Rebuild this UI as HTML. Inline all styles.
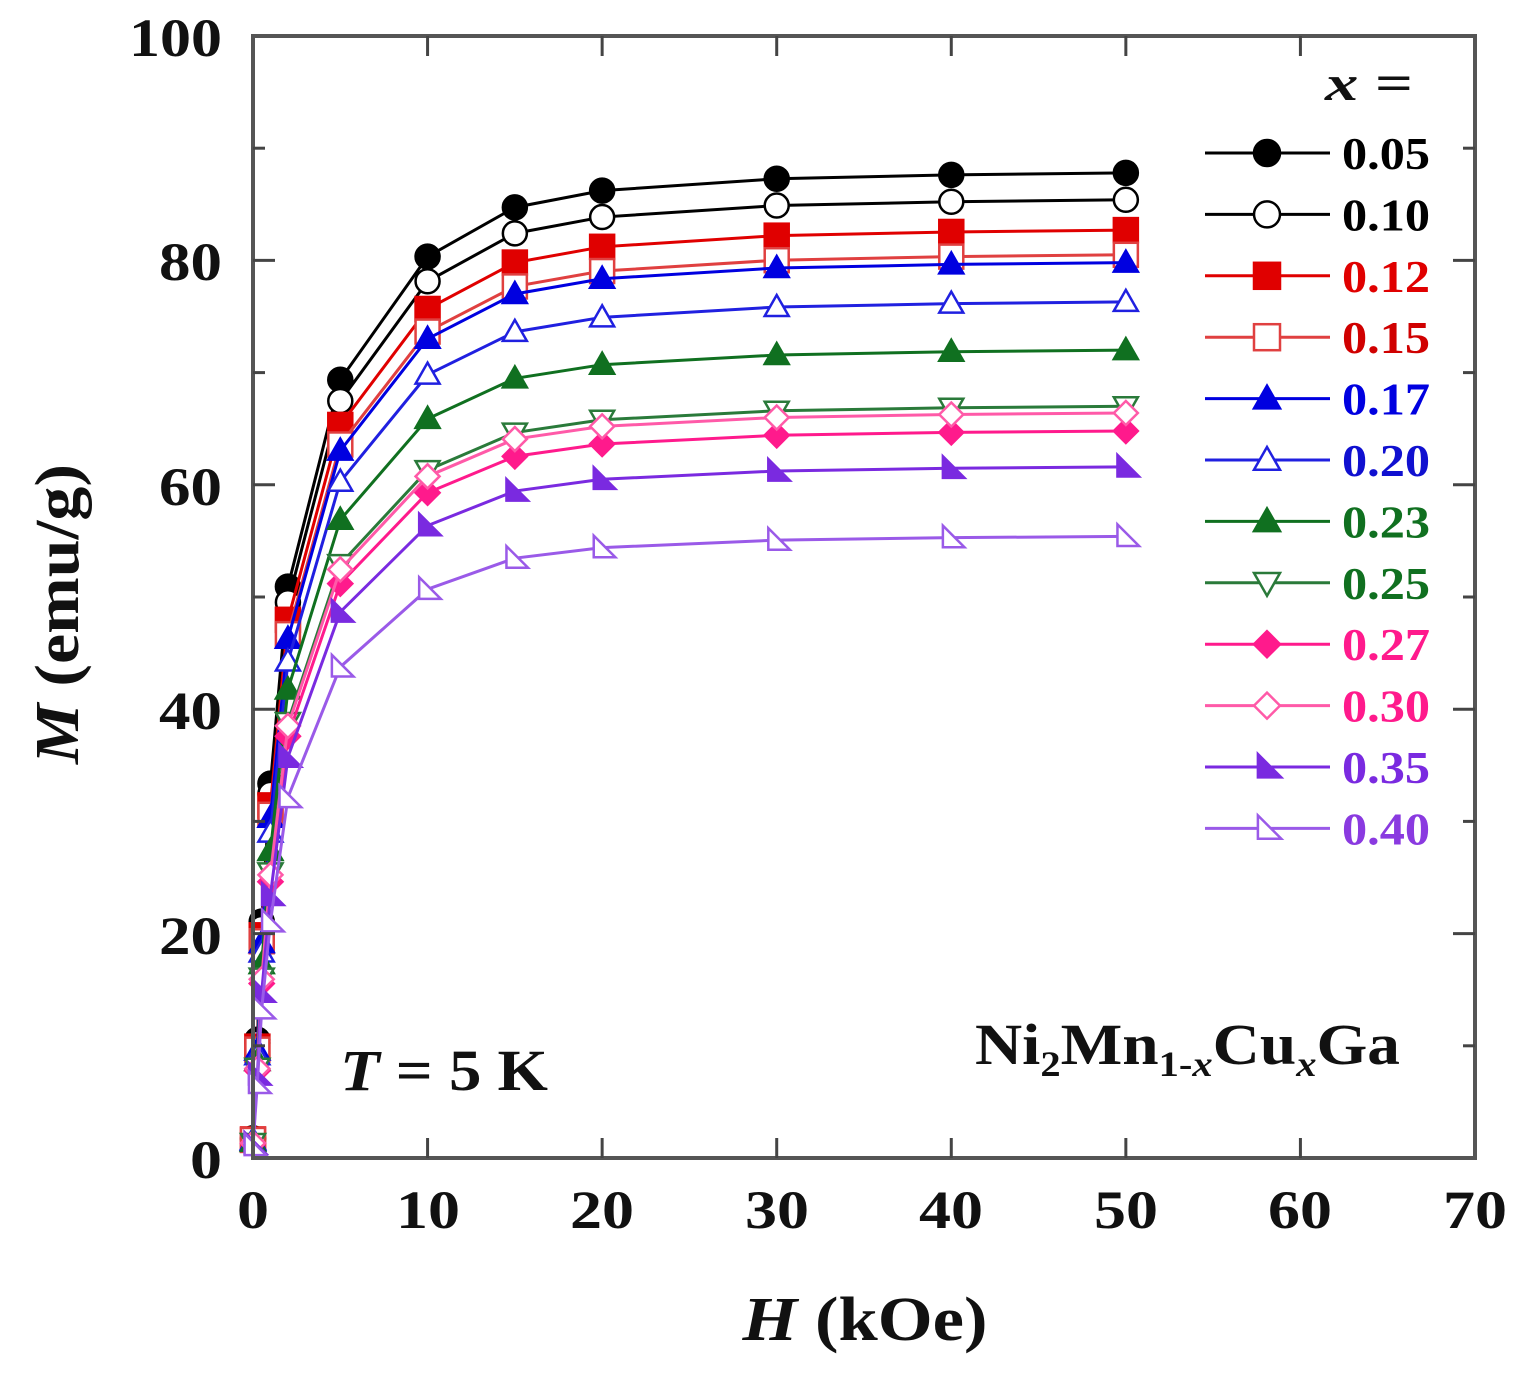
<!DOCTYPE html>
<html><head><meta charset="utf-8"><style>
html,body{margin:0;padding:0;background:#fff}
svg text{font-family:"Liberation Serif",serif;font-weight:bold}
</style></head><body>
<svg id="s" width="1517" height="1375" viewBox="0 0 1517 1375" xmlns="http://www.w3.org/2000/svg">
<rect x="0" y="0" width="1517" height="1375" fill="#fff"/>
<g id="plot"></g>
<rect x="253" y="36" width="1222" height="1122" fill="none" stroke="#555" stroke-width="4"/>
<g id="ticks" stroke="#444" stroke-width="3"></g>
<g font-size="54" fill="#111" text-anchor="end" lengthAdjust="spacingAndGlyphs">
<text x="222" y="1178" textLength="32" lengthAdjust="spacingAndGlyphs">0</text>
<text x="222" y="954" textLength="63" lengthAdjust="spacingAndGlyphs">20</text>
<text x="222" y="729" textLength="63" lengthAdjust="spacingAndGlyphs">40</text>
<text x="222" y="505" textLength="63" lengthAdjust="spacingAndGlyphs">60</text>
<text x="222" y="280" textLength="63" lengthAdjust="spacingAndGlyphs">80</text>
<text x="222" y="56" textLength="93" lengthAdjust="spacingAndGlyphs">100</text>
</g>
<g font-size="54" fill="#111" text-anchor="middle">
<text x="253" y="1228" textLength="32" lengthAdjust="spacingAndGlyphs">0</text>
<text x="428" y="1228" textLength="64" lengthAdjust="spacingAndGlyphs">10</text>
<text x="602" y="1228" textLength="64" lengthAdjust="spacingAndGlyphs">20</text>
<text x="777" y="1228" textLength="64" lengthAdjust="spacingAndGlyphs">30</text>
<text x="951" y="1228" textLength="64" lengthAdjust="spacingAndGlyphs">40</text>
<text x="1126" y="1228" textLength="64" lengthAdjust="spacingAndGlyphs">50</text>
<text x="1300" y="1228" textLength="64" lengthAdjust="spacingAndGlyphs">60</text>
<text x="1475" y="1228" textLength="64" lengthAdjust="spacingAndGlyphs">70</text>
</g>
<text x="865" y="1340" font-size="62" text-anchor="middle" fill="#111" textLength="245" lengthAdjust="spacingAndGlyphs"><tspan font-style="italic">H</tspan> (kOe)</text>
<text transform="translate(78,614) rotate(-90)" font-size="62" text-anchor="middle" fill="#111" textLength="300" lengthAdjust="spacingAndGlyphs"><tspan font-style="italic">M</tspan> (emu/g)</text>
<text x="340" y="1090" font-size="58" fill="#111" textLength="208" lengthAdjust="spacingAndGlyphs"><tspan font-style="italic">T</tspan> = 5 K</text>
<text x="975" y="1064" font-size="58" fill="#111" textLength="425" lengthAdjust="spacingAndGlyphs">Ni<tspan font-size="36" dy="12">2</tspan><tspan dy="-12">Mn</tspan><tspan font-size="36" dy="12">1-<tspan font-style="italic">x</tspan></tspan><tspan dy="-12">Cu</tspan><tspan font-size="36" dy="12" font-style="italic">x</tspan><tspan dy="-12">Ga</tspan></text>
<text x="1325" y="100" font-size="50" fill="#111" textLength="88" lengthAdjust="spacingAndGlyphs"><tspan font-style="italic">x</tspan> =</text>
<g id="legend"></g>
</svg>
<script>
var NS="http://www.w3.org/2000/svg";
function X(h){return 253+h*17.457}
function Y(m){return 1158-m*11.22}
function el(p,t,a){var e=document.createElementNS(NS,t);for(var k in a)e.setAttribute(k,a[k]);p.appendChild(e);return e}
var tk=document.getElementById('ticks');
for(var v=10;v<100;v+=10){var L=(v%20==0)?22:12;
 el(tk,'line',{x1:253,x2:253+L,y1:Y(v),y2:Y(v)});el(tk,'line',{x1:1475,x2:1475-L,y1:Y(v),y2:Y(v)});}
for(var h=10;h<70;h+=10){el(tk,'line',{x1:X(h),x2:X(h),y1:1158,y2:1138});el(tk,'line',{x1:X(h),x2:X(h),y1:36,y2:56});}
var Hs=[0,0.25,0.5,1,2,5,10,15,20,30,40,50];
var F=[0.02,0.12,0.24,0.38,0.58,0.79,0.915,0.965,0.982,0.994,0.998,1];
var S=[
 ["0.05",87.8,"#000","circle",1,"#000"],
 ["0.10",85.4,"#000","circle",0,"#000"],
 ["0.12",82.7,"#e00000","square",1,"#e00000"],
 ["0.15",80.5,"#e04040","square",0,"#d00000"],
 ["0.17",79.8,"#0000e0","tri",1,"#0000e0"],
 ["0.20",76.3,"#2020e0","tri",0,"#1010d0"],
 ["0.23",72.0,"#107020","tri",1,"#107020"],
 ["0.25",67.0,"#2a7a3a","tdown",0,"#107020"],
 ["0.27",64.8,"#ff1a8c","diamond",1,"#ff1a8c"],
 ["0.30",66.4,"#ff5aa8","diamond",0,"#ff1a8c"],
 ["0.35",61.6,"#7a2ae0","rtri",1,"#7a2ae0"],
 ["0.40",55.4,"#9a5ae8","rtri",0,"#8a3ae0"]];
function marker(g,type,x,y,c,fill,r){
 var f=fill?c:"#fff",a={fill:f,stroke:c,"stroke-width":2.5};
 if(type=="circle"){a.cx=x;a.cy=y;a.r=r;el(g,'circle',a);}
 else if(type=="square"){a.x=x-r;a.y=y-r;a.width=2*r;a.height=2*r;el(g,'rect',a);}
 else{var p;
  if(type=="tri")p=[[x,y-r],[x-r,y+r*0.75],[x+r,y+r*0.75]];
  if(type=="tdown")p=[[x,y+r],[x-r,y-r*0.75],[x+r,y-r*0.75]];
  if(type=="diamond")p=[[x,y-r],[x+r,y],[x,y+r],[x-r,y]];
  if(type=="rtri")p=[[x-r*0.7,y-r],[x-r*0.7,y+r*0.8],[x+r*1.1,y+r*0.8]];
  a.points=p.map(function(q){return q.join(',')}).join(' ');el(g,'polygon',a);}
}
var pg=document.getElementById('plot'),lg=document.getElementById('legend');
S.forEach(function(s,i){
 var pts=Hs.map(function(h,j){return [X(h),Y(s[1]*F[j])]});
 el(pg,'polyline',{points:pts.map(function(q){return q.join(',')}).join(' '),fill:'none',stroke:s[2],"stroke-width":3});
 pts.forEach(function(q){marker(pg,s[3],q[0],q[1],s[2],s[4],12)});
 var y=153+i*61.4;
 el(lg,'line',{x1:1205,x2:1330,y1:y,y2:y,stroke:s[2],"stroke-width":3});
 marker(lg,s[3],1267,y,s[2],s[4],13);
 var t=el(lg,'text',{x:1342,y:y+16,"font-size":46,fill:s[5],textLength:88,lengthAdjust:"spacingAndGlyphs"});t.textContent=s[0];
});
</script>
</body></html>
